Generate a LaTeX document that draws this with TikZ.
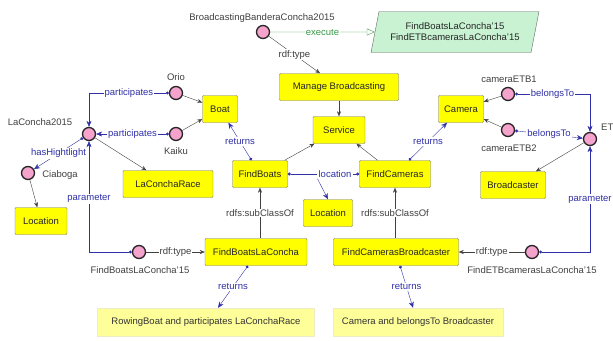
\documentclass[tikz,border=0pt]{standalone}
\usepackage{fontspec}
\setmainfont{Liberation Sans}
\usetikzlibrary{arrows.meta,shapes.geometric}

\definecolor{propblue}{HTML}{3030A8}
\definecolor{indpink}{HTML}{F5A3CC}
\definecolor{clsyellow}{HTML}{FFFF00}
\definecolor{qgreen}{HTML}{C8F2D2}
\definecolor{execgreen}{HTML}{3A9A4A}
\definecolor{respale}{HTML}{FFFF99}

\begin{document}
\begin{tikzpicture}[
  x=1pt, y=-1pt,
  font=\fontsize{9.5}{11}\selectfont,
  concept/.style={draw=black!55,fill=clsyellow,rounded corners=1pt,minimum height=27pt,inner xsep=2pt,text=black!85},
  result/.style={draw=yellow!70!black!25,fill=respale,minimum height=28pt,text=black!80},
  individual/.style={draw=black!85,line width=1.3pt,circle,fill=indpink,minimum size=13pt,inner sep=0pt},
  tag/.style={text=black!75,inner sep=1pt},
  isa/.style={-{Stealth[length=5pt,width=4pt]},black!75},
  prop/.style={{Circle[length=3pt]}-{Stealth[length=6pt,width=5pt]},propblue},
  propline/.style={{Circle[length=3pt]}-,propblue},
  plabel/.style={fill=white,text=propblue,inner sep=1pt},
  tlabel/.style={fill=white,text=black!75,inner sep=1pt}
]
\useasboundingbox (0,0) rectangle (613,340);

% classes
\node[concept,minimum width=119pt] (manage) at (339,87) {Manage Broadcasting};
\node[concept,minimum width=52pt] (svc) at (339,130) {Service};
\node[concept,minimum width=35pt] (boat) at (220,109) {Boat};
\node[concept,minimum width=45pt] (camera) at (461,109) {Camera};
\node[concept,minimum width=55pt] (fboats) at (260,174) {FindBoats};
\node[concept,minimum width=71pt] (fcams) at (395,174) {FindCameras};
\node[concept,minimum width=49pt] (locmid) at (328,213) {Location};
\node[concept,minimum width=52pt] (locleft) at (41,221) {Location};
\node[concept,minimum width=90pt] (lcrace) at (168,184) {LaConchaRace};
\node[concept,minimum width=65pt] (bcaster) at (513,185) {Broadcaster};
\node[concept,minimum width=102pt] (fblc) at (256,252) {FindBoatsLaConcha};
\node[concept,minimum width=125pt] (fcb) at (396,252) {FindCamerasBroadcaster};

% query results
\node[result,minimum width=217pt] (rowing) at (206,322) {RowingBoat and participates LaConchaRace};
\node[result,minimum width=170pt] (camres) at (418,322) {Camera and belongsTo Broadcaster};

% executed queries
\node[trapezium,trapezium left angle=72,trapezium right angle=108,trapezium stretches body,
  draw=black!60,fill=qgreen,align=center,minimum height=41pt,minimum width=168pt,inner xsep=2pt,text=black!85]
  (queries) at (455,32) {FindBoatsLaConcha'15\\FindETBcamerasLaConcha'15};

% individuals
\node[individual] (bbc) at (263,32) {};
\node[individual] (orio) at (176,93) {};
\node[individual] (kaiku) at (176,134) {};
\node[individual] (lc2015) at (89,134) {};
\node[individual] (ciaboga) at (28,173) {};
\node[individual] (fblc15) at (139,252) {};
\node[individual] (cam1) at (508,94) {};
\node[individual] (cam2) at (508,130) {};
\node[individual] (etb) at (590,139) {};
\node[individual] (fetb15) at (532,252) {};

\node[tag] (bbcl) at (262,18) {BroadcastingBanderaConcha2015};
\node[tag] (oriol) at (176,77) {Orio};
\node[tag] (kaikul) at (176,151) {Kaiku};
\node[tag] (lc2015l) at (40,122) {LaConcha2015};
\node[tag] (ciabogal) at (60,175) {Ciaboga};
\node[tag] (fblc15l) at (140,270) {FindBoatsLaConcha'15};
\node[tag] (cam1l) at (509,79) {cameraETB1};
\node[tag] (cam2l) at (509,148) {cameraETB2};
\node[tag] (fetb15l) at (532,270) {FindETBcamerasLaConcha'15};
\node[tag,anchor=west] (etbl) at (600,127) {ET};

% type and subclass links
\draw[isa] (bbc) -- node[tlabel] {rdf:type} (manage);
\draw[isa] (manage) -- (svc);
\draw[isa] (fboats) -- (svc);
\draw[isa] (fcams) -- (svc);
\draw[isa] (orio) -- (boat);
\draw[isa] (kaiku) -- (boat);
\draw[isa] (lc2015) -- (lcrace);
\draw[isa] (ciaboga) -- (locleft);
\draw[isa] (cam1) -- (camera);
\draw[isa] (cam2) -- (camera);
\draw[isa] (etb) -- (bcaster);
\draw[isa] (fblc15) -- node[tlabel] {rdf:type} (fblc);
\draw[isa] (fetb15) -- node[tlabel] {rdf:type} (fcb);
\draw[isa] (fboats |- fblc.north) -- node[tlabel] {rdfs:subClassOf} (fboats.south);
\draw[isa] (fcams |- fcb.north) -- node[tlabel] {rdfs:subClassOf} (fcams.south);

% execute
\draw[-{Triangle[open,length=8pt,width=7pt]},execgreen] (bbc) -- node[fill=white,text=execgreen,inner sep=1pt] {execute} (queries);

% object properties
\draw[prop] (orio) -| node[plabel,pos=.25] {participates} (lc2015);
\draw[prop] (kaiku) -- node[plabel] {participates} (lc2015);
\draw[prop] (lc2015) -- node[plabel] {hasHightlight} (ciaboga);
\draw[prop] (fblc15) -| node[plabel,pos=.74] {parameter} (lc2015);
\draw[prop] (fboats) -- node[plabel] {returns} (boat);
\draw[prop] (fcams) -- node[plabel] {returns} (camera);
\node[plabel] (locl) at (335,174) {location};
\draw[propline] (fboats.east) -- (locl);
\draw[propline] (fcams.west) -- (locl);
\draw[-{Stealth[length=6pt,width=5pt]},propblue] (locl.south west) -- (locmid.north);
\draw[prop] (cam1) -| node[plabel,pos=.25] {belongsTo} (etb);
\draw[prop] (cam2) -- node[plabel] {belongsTo} (etb);
\draw[prop] (fetb15) -| node[plabel,pos=.75] {parameter} (etb);
\draw[prop] ([xshift=-8pt]fblc.south) -- node[plabel] {returns} ([xshift=12pt]rowing.north);
\draw[prop] ([xshift=4pt]fcb.south) -- node[plabel] {returns} ([xshift=-5pt]camres.north);
\end{tikzpicture}
\end{document}
